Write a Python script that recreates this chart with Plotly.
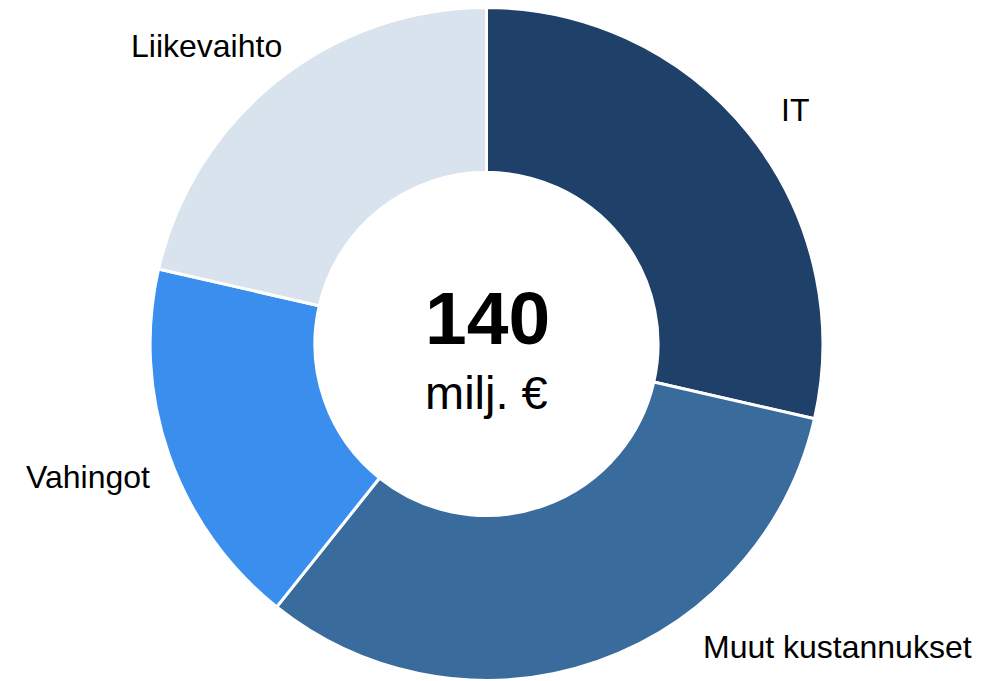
import plotly.graph_objects as go

categories = ["IT", "Muut kustannukset", "Vahingot", "Liikevaihto"]
values = [40, 45, 25, 30]
colors = ["#1f4069", "#396b9c", "#3a8fee", "#d9e3ee"]
total_label = "140"
unit_label = "milj. €"

W, H = 1000, 681

fig = go.Figure(go.Pie(
    labels=categories,
    values=values,
    hole=0.51,
    sort=False,
    direction="clockwise",
    rotation=0,
    marker=dict(colors=colors, line=dict(color="white", width=3)),
    textinfo="none",
    hoverinfo="label+value",
    domain=dict(x=[0, 0.973], y=[0.001, 0.989]),
    showlegend=False,
))

# label positions in pixels (x from left, y from top)
label_pos = {
    "IT": (795, 110),
    "Muut kustannukset": (837, 647),
    "Vahingot": (88, 477),
    "Liikevaihto": (206, 46),
}
FONT = "Liberation Sans, Arial, sans-serif"
annotations = []
for cat in categories:
    px, py = label_pos[cat]
    annotations.append(dict(
        text=cat, x=px / W, y=1 - py / H, xref="paper", yref="paper",
        showarrow=False, xanchor="center", yanchor="middle",
        font=dict(family=FONT, size=32, color="#000"),
    ))
annotations.append(dict(
    text="<b>" + total_label + "</b>", x=487 / W, y=1 - 318 / H, xref="paper", yref="paper",
    showarrow=False, xanchor="center", yanchor="middle",
    font=dict(family=FONT, size=75, color="#000"),
))
annotations.append(dict(
    text=unit_label, x=486 / W, y=1 - 392 / H, xref="paper", yref="paper",
    showarrow=False, xanchor="center", yanchor="middle",
    font=dict(family=FONT, size=47, color="#000"),
))

fig.update_layout(
    width=W, height=H,
    margin=dict(l=0, r=0, t=0, b=0),
    paper_bgcolor="white", plot_bgcolor="white",
    annotations=annotations,
)

fig.write_html("out.html", config={"displayModeBar": False},
               post_script="document.body.style.margin='0';")
